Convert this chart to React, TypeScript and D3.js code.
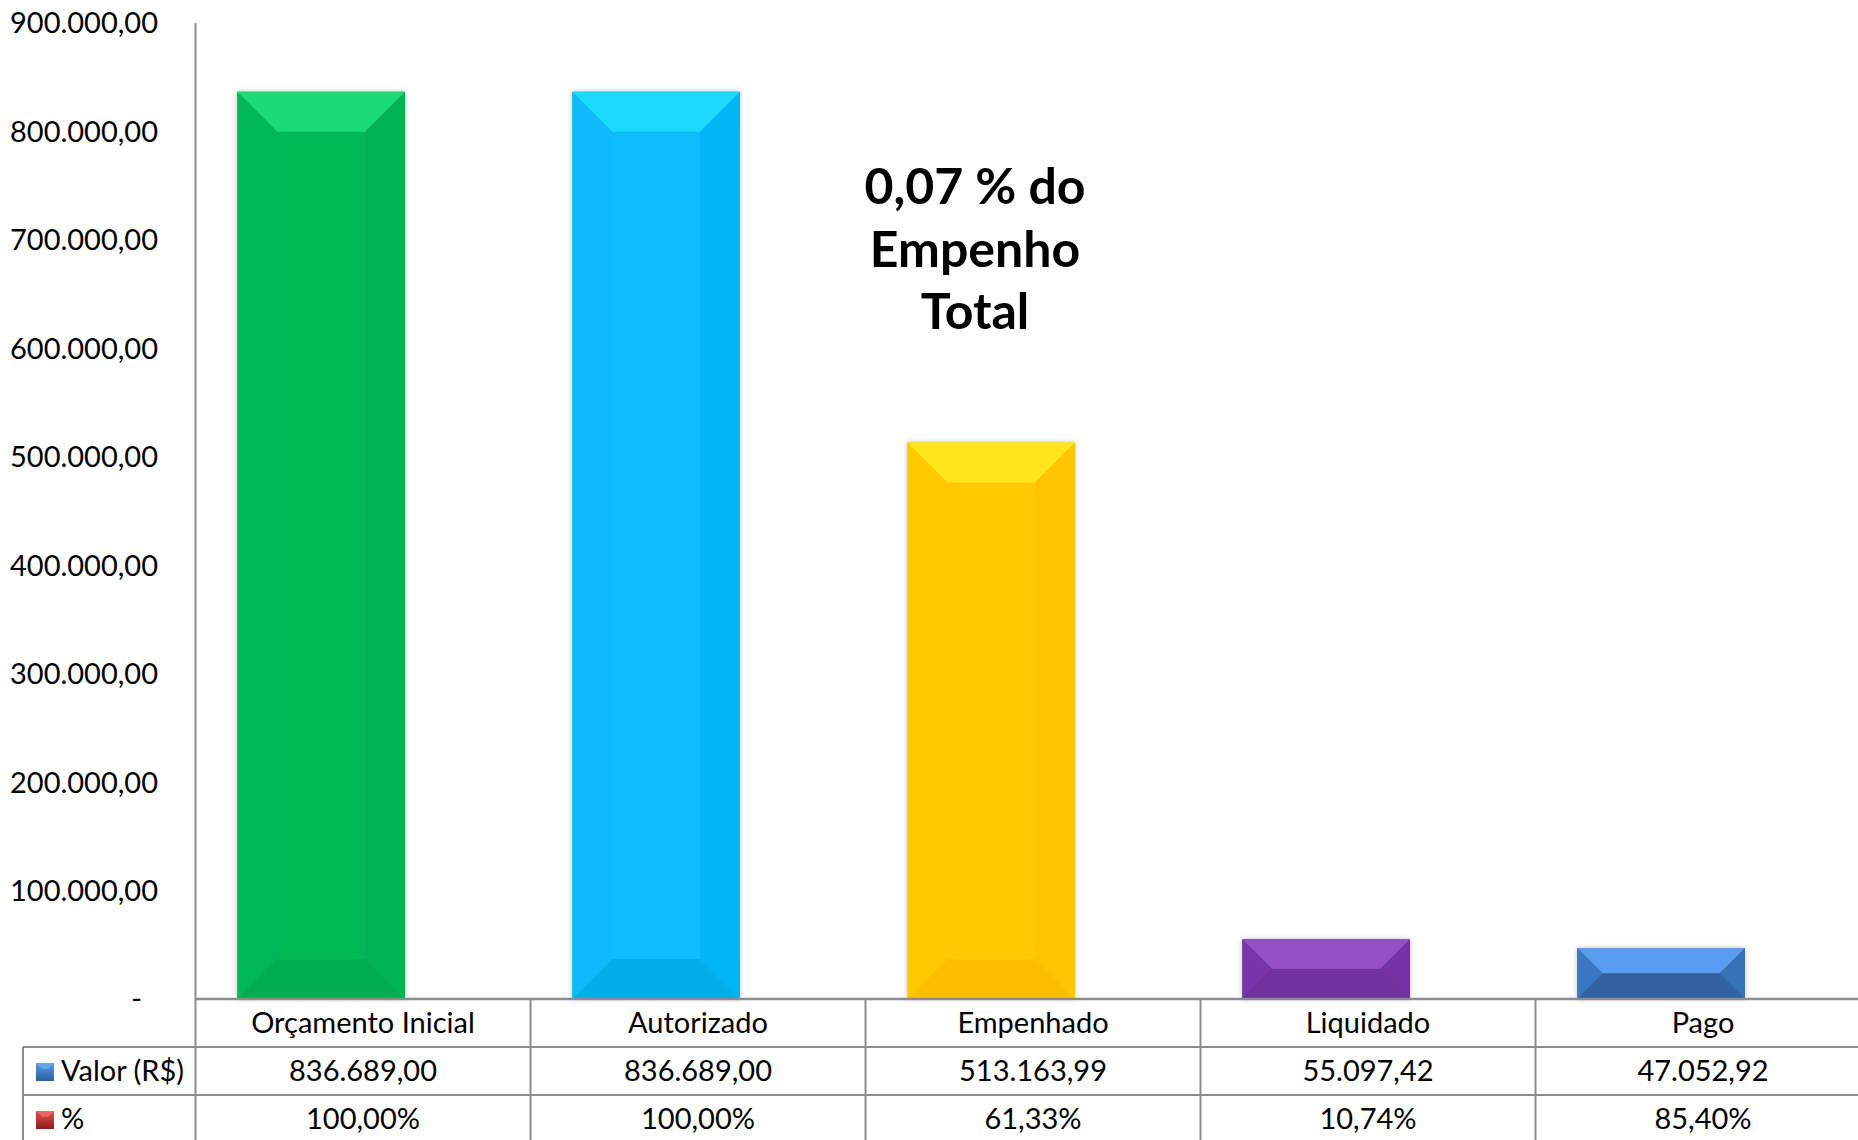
import React from "react";
import * as d3 from "d3";

const categories = ["Orçamento Inicial", "Autorizado", "Empenhado", "Liquidado", "Pago"];
const valores = [836689.0, 836689.0, 513163.99, 55097.42, 47052.92];
const percentuais = [1.0, 1.0, 0.6133, 0.1074, 0.854];
const seriesNames = ["Valor (R$)", "%"];
const yTicks = [0, 100000, 200000, 300000, 400000, 500000, 600000, 700000, 800000, 900000];
const annotationLines = ["0,07 % do", "Empenho", "Total"];

// bevel colours per bar: [top, body, left, right, bottom]
const barPalettes = [
  ["#1fda76", "#06b955", "#06b854", "#04b352", "#04ad50"],
  ["#1ed9fe", "#0bbdfd", "#0abbfb", "#06b6f5", "#04aee8"],
  ["#ffe51a", "#ffcb05", "#ffca03", "#ffc600", "#fcbf00"],
  ["#9450c2", "#6f309d", "#7834a8", "#7531a4", "#6f309d"],
  ["#5a9df0", "#3262a3", "#3b78bf", "#3672b8", "#3262a3"],
];

const W = 1858;
const H = 1140;
const FONT = "Lato, 'Open Sans', sans-serif";

const br = d3.formatLocale({ decimal: ",", thousands: ".", grouping: [3], currency: ["R$", ""], percent: "%" });
const fmtNum = br.format(",.2f");
const fmtPct = br.format(".2%");

export default function App() {
  const axisX = 195.5;
  const colW = 335;
  const baseY = 999;
  const x = d3.scaleBand<string>().domain(categories).range([axisX, axisX + colW * categories.length]).padding(0);
  const y = d3.scaleLinear().domain([0, 900000]).range([baseY, 23]);

  // clustered bars: 2 series, gap width 50%, overlap 50%
  const bw = x.bandwidth() / (1.5 + 0.5);
  const barLeft = (cat: string, si: number) => (x(cat) as number) + bw * 0.25 + si * bw * 0.5;

  const rowH = 48;
  const row1 = baseY;
  const row2 = baseY + rowH;
  const row3 = baseY + rowH * 2;
  const row4 = baseY + rowH * 3;
  const tableLeft = 23;
  const grid = "#8c8c8c";
  const fs = 29;

  return (
    <svg width={W} height={H} style={{ position: "absolute", left: 0, top: 0, background: "#fff" }} fontFamily={FONT}>
      <defs>
        <filter id="sh" x="-10%" y="-10%" width="120%" height="120%">
          <feDropShadow dx="0" dy="0" stdDeviation="2.5" floodColor="#000" floodOpacity="0.25" />
        </filter>
        <linearGradient id="keyBlue" x1="0" y1="0" x2="0" y2="1">
          <stop offset="0" stopColor="#5b9be6" />
          <stop offset="1" stopColor="#2d5fa3" />
        </linearGradient>
        <linearGradient id="keyRed" x1="0" y1="0" x2="0" y2="1">
          <stop offset="0" stopColor="#e05050" />
          <stop offset="1" stopColor="#8e1c1c" />
        </linearGradient>
      </defs>
      <rect x={0} y={0} width={W} height={H} fill="#fff" />

      {/* y axis tick labels */}
      {yTicks.map((t) => (
        <text
          key={t}
          x={t === 0 ? 142 : 158}
          y={y(t) + fs * 0.36}
          fontSize={fs}
          textAnchor="end"
          fill="#000"
        >
          {t === 0 ? "-" : fmtNum(t)}
        </text>
      ))}

      {/* bars */}
      {categories.map((c, i) => {
        const v = valores[i];
        const x0 = barLeft(c, 0);
        const x1 = x0 + bw;
        const y0 = y(v);
        const y1 = baseY;
        const h = y1 - y0;
        const b = Math.min(40, h / 2);
        const [top, body, left, right, bottom] = barPalettes[i];
        return (
          <g key={c} filter="url(#sh)">
            <rect x={x0} y={y0} width={bw} height={h} fill={body} />
            <polygon points={`${x0},${y0} ${x0 + b},${y0 + b} ${x0 + b},${y1 - b} ${x0},${y1}`} fill={left} />
            <polygon points={`${x1},${y0} ${x1 - b},${y0 + b} ${x1 - b},${y1 - b} ${x1},${y1}`} fill={right} />
            <polygon points={`${x0},${y0} ${x1},${y0} ${x1 - b},${y0 + b} ${x0 + b},${y0 + b}`} fill={top} />
            <polygon points={`${x0},${y1} ${x1},${y1} ${x1 - b},${y1 - b} ${x0 + b},${y1 - b}`} fill={bottom} />
          </g>
        );
      })}

      {/* y axis line */}
      <line x1={axisX} x2={axisX} y1={23} y2={H} stroke={grid} strokeWidth={2} />

      {/* table grid */}
      <line x1={axisX} x2={W} y1={row1} y2={row1} stroke={grid} strokeWidth={2.5} />
      <line x1={tableLeft} x2={W} y1={row2} y2={row2} stroke={grid} strokeWidth={2} />
      <line x1={tableLeft} x2={W} y1={row3} y2={row3} stroke={grid} strokeWidth={2} />
      <line x1={tableLeft} x2={W} y1={row4} y2={row4} stroke={grid} strokeWidth={2} />
      <line x1={tableLeft} x2={tableLeft} y1={row2} y2={H} stroke={grid} strokeWidth={2} />
      {categories.slice(1).map((c) => (
        <line key={c} x1={x(c) as number} x2={x(c) as number} y1={row1} y2={H} stroke={grid} strokeWidth={2} />
      ))}

      {/* table text */}
      {categories.map((c, i) => {
        const cx = (x(c) as number) + x.bandwidth() / 2;
        return (
          <g key={c} fontSize={fs} textAnchor="middle" fill="#000">
            <text x={cx} y={row1 + rowH / 2 + fs * 0.36}>{c}</text>
            <text x={cx} y={row2 + rowH / 2 + fs * 0.36}>{fmtNum(valores[i])}</text>
            <text x={cx} y={row3 + rowH / 2 + fs * 0.36}>{fmtPct(percentuais[i])}</text>
          </g>
        );
      })}

      {/* legend keys */}
      <rect x={36} y={row2 + 16} width={18} height={18} fill="url(#keyBlue)" />
      <polygon points={`36,${row2 + 16} 54,${row2 + 16} 48,${row2 + 22} 42,${row2 + 22}`} fill="#6aa8ee" opacity={0.8} />
      <text x={61} y={row2 + rowH / 2 + fs * 0.36} fontSize={fs} fill="#000">{seriesNames[0]}</text>
      <rect x={36} y={row3 + 16} width={18} height={18} fill="url(#keyRed)" />
      <polygon points={`36,${row3 + 16} 54,${row3 + 16} 48,${row3 + 22} 42,${row3 + 22}`} fill="#ee6a6a" opacity={0.8} />
      <text x={61} y={row3 + rowH / 2 + fs * 0.36} fontSize={fs} fill="#000">{seriesNames[1]}</text>

      {/* annotation */}
      {annotationLines.map((l, i) => (
        <text key={l} x={975} y={204 + i * 62.5} fontSize={50} fontWeight="bold" textAnchor="middle" fill="#000">
          {l}
        </text>
      ))}
    </svg>
  );
}
